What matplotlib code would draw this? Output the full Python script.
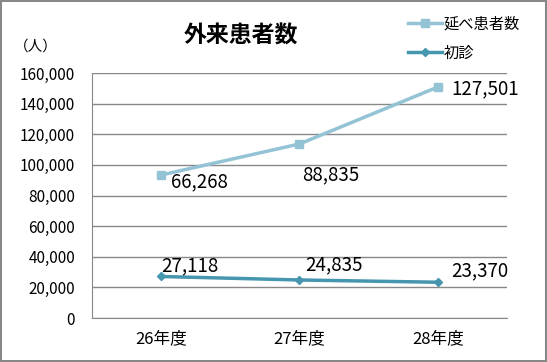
import matplotlib
matplotlib.use('Agg')
import matplotlib.pyplot as plt
import numpy as np
from matplotlib.ticker import FuncFormatter

plt.rcParams['font.family'] = ['Noto Sans CJK JP', 'DejaVu Sans']

years = ['26年度', '27年度', '28年度']
first_visit = [27118, 24835, 23370]      # 初診
total_visit = [66268, 88835, 127501]     # 延べ患者数 (stacked on top of 初診)
yticks = [0, 20000, 40000, 60000, 80000, 100000, 120000, 140000, 160000]

stacked = np.array(first_visit) + np.array(total_visit)
x = np.arange(len(years))

c_total = '#93C3D5'
c_first = '#4596AE'

fig = plt.figure(figsize=(5.47, 3.62), dpi=100)
fig.patch.set_edgecolor('#888888')
fig.patch.set_linewidth(1.5)
ax = fig.add_axes([0.168, 0.1215, 0.759, 0.6768])

ax.plot(x, stacked, color=c_total, lw=2.5, marker='s', ms=6, label='延べ患者数')
ax.plot(x, first_visit, color=c_first, lw=2.5, marker='D', ms=4.5, label='初診')

ax.set_xlim(-0.5, 2.5)
ax.set_ylim(0, 160000)
ax.set_yticks(yticks)
ax.yaxis.set_major_formatter(FuncFormatter(lambda v, p: f'{int(v):,}'))
ax.set_xticks(x)
ax.set_xticklabels(years)
ax.grid(axis='y', color='#888888', lw=1)
ax.set_axisbelow(True)
for s in ['top', 'right']:
    ax.spines[s].set_visible(False)
for s in ['left', 'bottom']:
    ax.spines[s].set_color('#888888')
ax.tick_params(axis='y', length=0, labelsize=11, pad=12)
ax.tick_params(axis='x', length=0, labelsize=12, pad=9)

# data labels (offsets in points)
offs_total = [(7, -5), (2, -22), (9.5, -1)]
for i in range(len(years)):
    dx, dy = offs_total[i]
    ax.annotate(f'{total_visit[i]:,}', (x[i], stacked[i]), xytext=(dx, dy),
                textcoords='offset points', ha='left', va='center', fontsize=13.5)
offs_first = [(0, 8), (4, 11), (9.5, 8)]
for i in range(len(years)):
    dx, dy = offs_first[i]
    ax.annotate(f'{first_visit[i]:,}', (x[i], first_visit[i]), xytext=(dx, dy),
                textcoords='offset points', ha='left', va='center', fontsize=13.5)

fig.text(0.44, 0.9, '外来患者数', ha='center', va='center', fontsize=16.5, fontweight='bold')
fig.text(0.066, 0.87, '（人）', ha='center', va='center', fontsize=10.5)

leg = fig.legend(loc='upper right', bbox_to_anchor=(0.975, 0.995), frameon=False,
                 fontsize=11, handlelength=2.2, handletextpad=0.1, labelspacing=0.8)

fig.savefig('out.png', dpi=100, edgecolor=fig.get_edgecolor())
